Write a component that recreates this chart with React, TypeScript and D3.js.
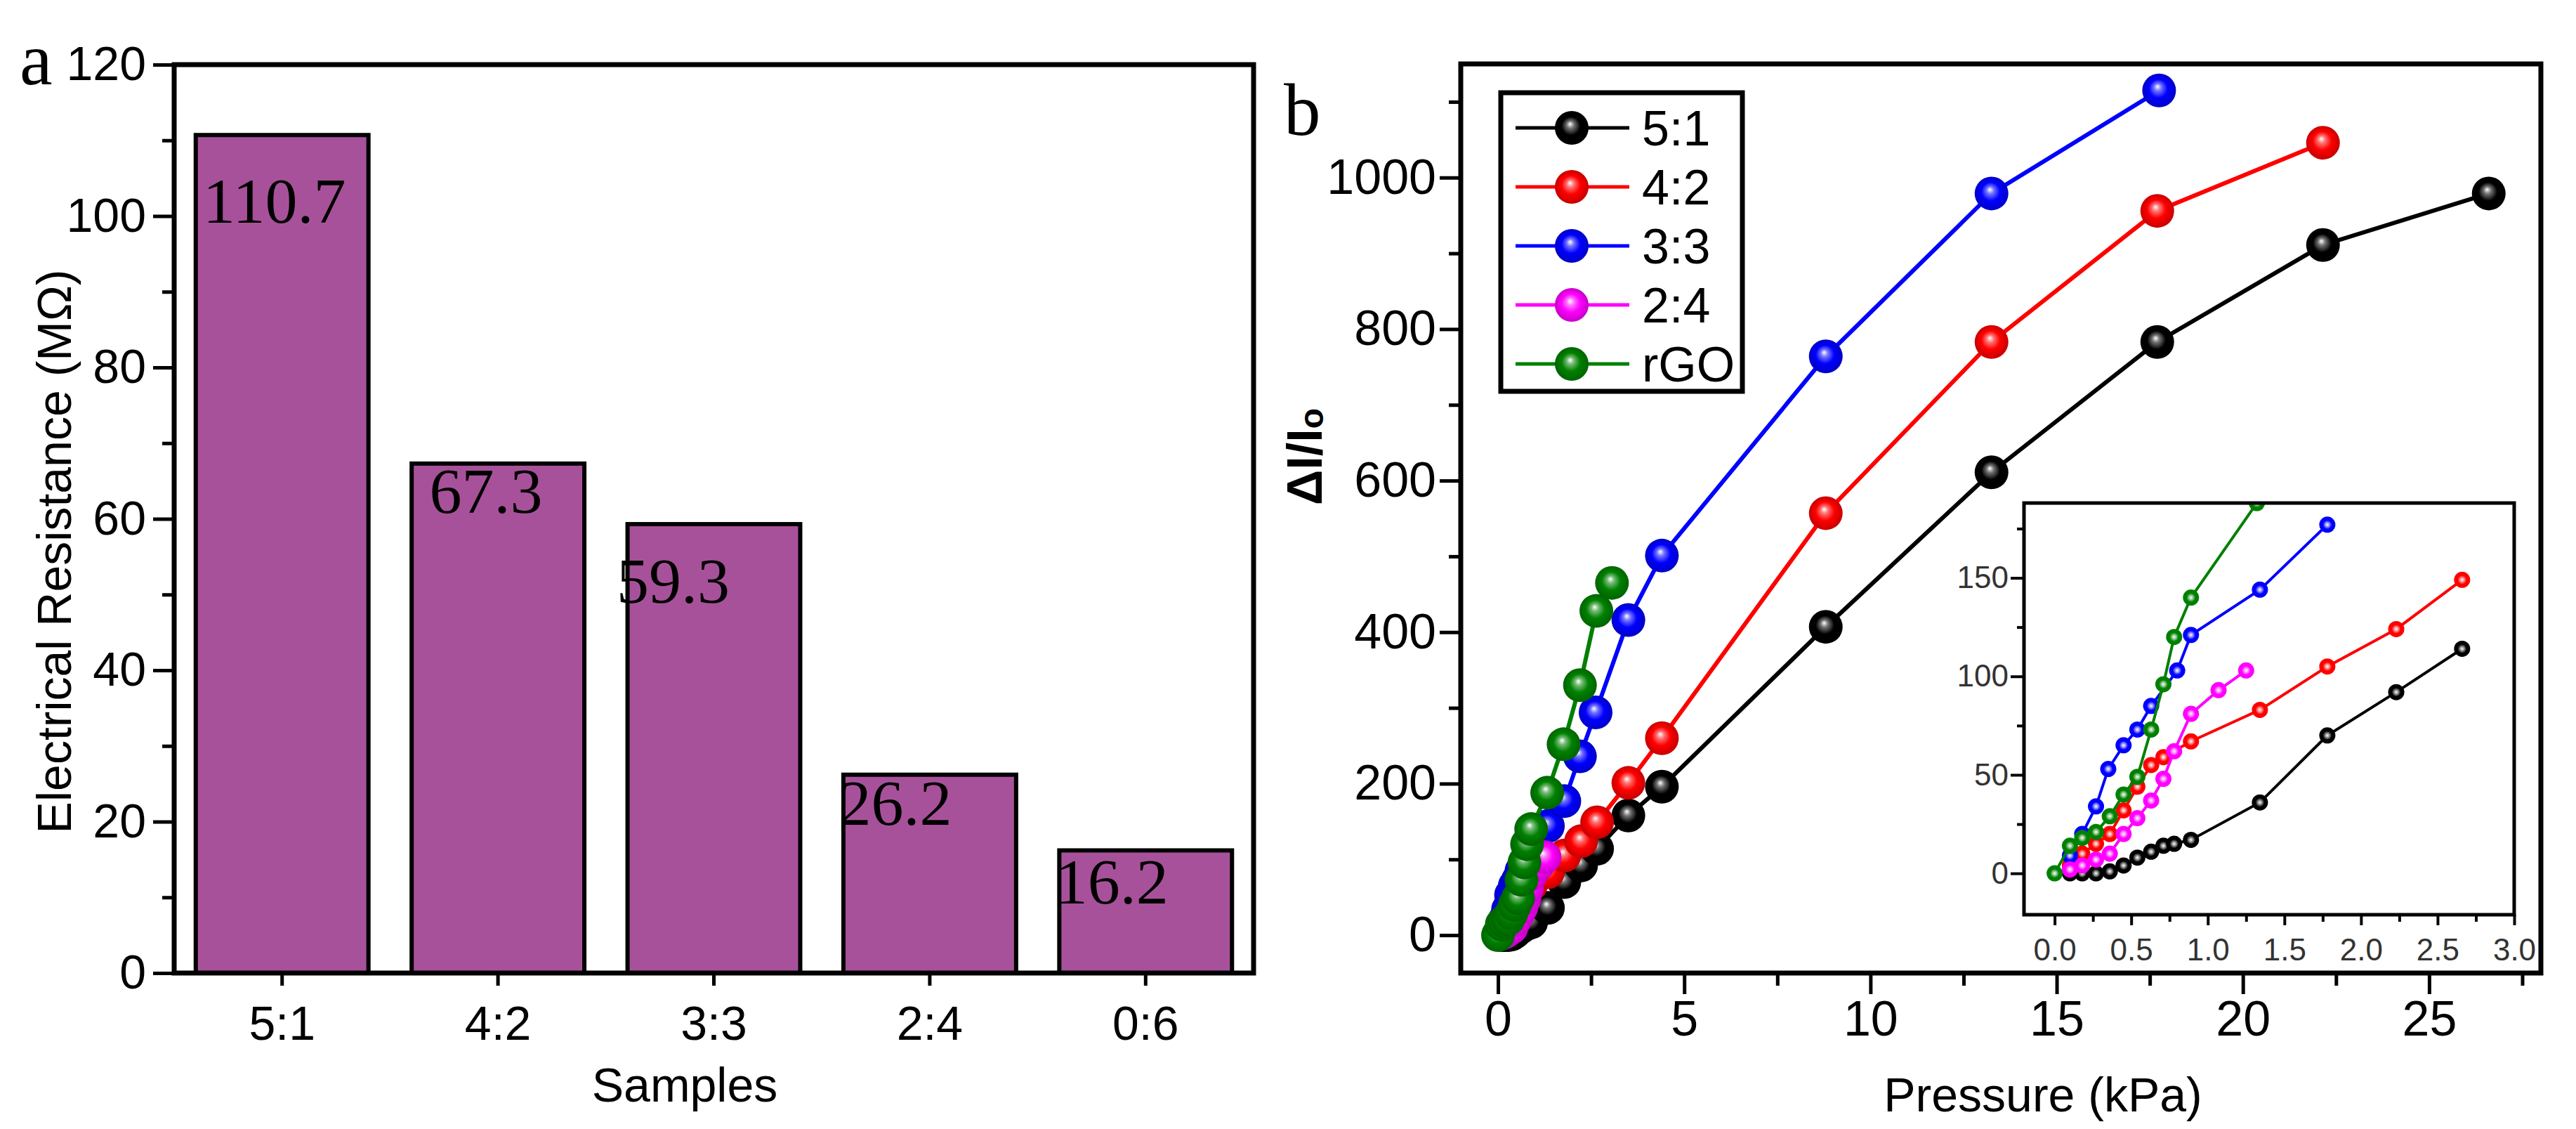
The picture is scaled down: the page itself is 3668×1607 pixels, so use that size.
import React, { useEffect, useRef } from 'react'
import * as d3 from 'd3'

// panel a: resistance of each sample
const samples = ['5:1', '4:2', '3:3', '2:4', '0:6']
const resistance = [110.7, 67.3, 59.3, 26.2, 16.2]
const resistanceTicks = [0, 20, 40, 60, 80, 100, 120]
// value labels are not placed the same way in every bar of the original
const labelDx = [-11, -17, -58, -49, -48]
const labelDy = [125, 70, 112, 71, 76]

// panel b: response vs pressure
const seriesNames = ['5:1', '4:2', '3:3', '2:4', 'rGO']
const seriesColors = ['#000000', '#ff0000', '#0000ff', '#ff00ff', '#008000']

const p51 = [0.1, 0.18, 0.27, 0.36, 0.45, 0.54, 0.63, 0.71, 0.78, 0.89, 1.34, 1.78, 2.23, 2.66, 3.5, 4.4, 8.8, 13.25, 17.7, 22.15, 26.6]
const r51 = [0, 0, 0, 1, 4, 8, 11, 14, 15, 17, 36, 70, 92, 114, 158, 196, 407, 611, 783, 911, 979]

const p42 = [0.1, 0.18, 0.27, 0.36, 0.45, 0.54, 0.63, 0.71, 0.89, 1.34, 1.78, 2.23, 2.66, 3.5, 4.4, 8.8, 13.25, 17.7, 22.15]
const r42 = [4, 10, 15, 20, 32, 44, 55, 59, 67, 83, 105, 124, 149, 201, 260, 557, 783, 956, 1046]

const p33 = [0.1, 0.18, 0.27, 0.35, 0.45, 0.54, 0.63, 0.8, 0.89, 1.34, 1.78, 2.2, 2.62, 3.5, 4.4, 8.8, 13.25, 17.75]
const r33 = [9, 20, 34, 53, 65, 73, 85, 103, 121, 144, 177, 236, 294, 416, 501, 764, 979, 1115]

const p24 = [0.1, 0.18, 0.27, 0.36, 0.45, 0.54, 0.63, 0.71, 0.78, 0.89, 1.07, 1.25]
const r24 = [2, 4, 7, 10, 20, 28, 37, 48, 62, 81, 93, 103]

const pGO = [0, 0.1, 0.18, 0.27, 0.36, 0.45, 0.54, 0.63, 0.71, 0.78, 0.89, 1.32, 1.76, 2.2, 2.64, 3.06]
const rGO = [0, 14, 18, 21, 29, 40, 49, 73, 96, 120, 140, 188, 252, 330, 428, 465]

const pressures = [p51, p42, p33, p24, pGO]
const responses = [r51, r42, r33, r24, rGO]

const mainXTicks = [0, 5, 10, 15, 20, 25]
const mainYTicks = [0, 200, 400, 600, 800, 1000]
const insetXTicks = [0, 0.5, 1, 1.5, 2, 2.5, 3]
const insetYTicks = [0, 50, 100, 150]

const sans = '"Liberation Sans", Arial, sans-serif'
const serif = '"Liberation Serif", "Times New Roman", serif'

export default function App() {
    const ref = useRef<SVGSVGElement>(null)

    useEffect(() => {
        draw()
    }, [])

    const draw = () => {
        const svg = d3.select(ref.current)
        svg.selectAll('*').remove()

        const series = seriesNames.map((name, i) => ({
            name,
            color: seriesColors[i],
            pts: pressures[i].map((p, j) => ({ p, r: responses[i][j] }))
        }))

        // shaded balls for the markers
        const defs = svg.append('defs')
        seriesColors.forEach((c, i) => {
            const g = defs.append('radialGradient').attr('id', `ball${i}`)
                .attr('cx', '50%').attr('cy', '50%').attr('r', '50%').attr('fx', '45%').attr('fy', '38%')
            g.append('stop').attr('offset', '0%').attr('stop-color', '#ffffff')
            g.append('stop').attr('offset', '22%').attr('stop-color', d3.interpolateRgb(c, '#ffffff')(0.45))
            g.append('stop').attr('offset', '55%').attr('stop-color', c)
            g.append('stop').attr('offset', '100%').attr('stop-color', d3.color(c)!.darker(0.7).toString())
            const s = defs.append('radialGradient').attr('id', `ring${i}`)
                .attr('cx', '50%').attr('cy', '50%').attr('r', '50%')
            s.append('stop').attr('offset', '0%').attr('stop-color', '#ffffff')
            s.append('stop').attr('offset', '30%').attr('stop-color', d3.interpolateRgb(c, '#ffffff')(0.5))
            s.append('stop').attr('offset', '55%').attr('stop-color', c)
            s.append('stop').attr('offset', '100%').attr('stop-color', c)
        })

        const styleAxis = (g, size, width = 5) => {
            g.select('.domain').remove()
            g.selectAll('line').attr('stroke', '#000').attr('stroke-width', width)
            g.selectAll('text').attr('font-family', sans).attr('font-size', size).attr('fill', '#000')
        }

        // ---------- panel a ----------
        const a = { left: 248, right: 1785, top: 92, bottom: 1385 }
        const xa = d3.scaleBand().domain(samples).range([a.left, a.right]).paddingInner(0.2).paddingOuter(0.1)
        const ya = d3.scaleLinear().domain([0, 120]).range([a.bottom, a.top])

        svg.append('g')
            .selectAll('rect')
            .data(resistance)
            .join('rect')
            .attr('x', (d, i) => xa(samples[i]))
            .attr('y', d => ya(d))
            .attr('width', xa.bandwidth())
            .attr('height', d => ya(0) - ya(d))
            .attr('fill', '#a8519b')
            .attr('stroke', '#000')
            .attr('stroke-width', 6)

        svg.append('g')
            .selectAll('text')
            .data(resistance)
            .join('text')
            .attr('x', (d, i) => xa(samples[i]) + xa.bandwidth() / 2 + labelDx[i])
            .attr('y', (d, i) => ya(d) + labelDy[i])
            .attr('text-anchor', 'middle')
            .attr('font-family', serif)
            .attr('font-size', 92)
            .attr('fill', '#000')
            .text(d => d)

        svg.append('g').attr('transform', `translate(${a.left},0)`)
            .call(d3.axisLeft(ya).tickValues(resistanceTicks).tickSize(30).tickPadding(10))
            .call(g => styleAxis(g, 68))
        svg.append('g').attr('transform', `translate(${a.left},0)`)
            .call(d3.axisLeft(ya).tickValues([10, 30, 50, 70, 90, 110]).tickSize(17).tickFormat(() => ''))
            .call(g => styleAxis(g, 68))
        svg.append('g').attr('transform', `translate(0,${a.bottom})`)
            .call(d3.axisBottom(xa).tickSize(18).tickPadding(29))
            .call(g => styleAxis(g, 68))

        svg.append('rect')
            .attr('x', a.left).attr('y', a.top)
            .attr('width', a.right - a.left).attr('height', a.bottom - a.top)
            .attr('fill', 'none').attr('stroke', '#000').attr('stroke-width', 7)

        svg.append('text')
            .attr('transform', `translate(77,785) rotate(-90)`)
            .attr('text-anchor', 'middle').attr('dominant-baseline', 'central')
            .attr('font-family', sans).attr('font-size', 68)
            .text('Electrical Resistance (MΩ)')
        svg.append('text')
            .attr('x', 975).attr('y', 1568)
            .attr('text-anchor', 'middle')
            .attr('font-family', sans).attr('font-size', 68)
            .text('Samples')
        svg.append('text')
            .attr('x', 28).attr('y', 120)
            .attr('font-family', serif).attr('font-size', 105)
            .text('a')

        // ---------- panel b ----------
        const b = { left: 2080, right: 3618, top: 91, bottom: 1385 }
        const xb = d3.scaleLinear().domain([-1, 28]).range([b.left, b.right])
        const yb = d3.scaleLinear().domain([-50, 1150]).range([b.bottom, b.top])

        const lineB = d3.line().x(d => xb(d.p)).y(d => yb(d.r))
        series.forEach((s, i) => {
            const g = svg.append('g')
            g.append('path')
                .datum(s.pts)
                .attr('d', lineB)
                .attr('fill', 'none')
                .attr('stroke', s.color)
                .attr('stroke-width', 6)
            g.selectAll('circle')
                .data(s.pts)
                .join('circle')
                .attr('cx', d => xb(d.p))
                .attr('cy', d => yb(d.r))
                .attr('r', 24)
                .attr('fill', `url(#ball${i})`)
        })

        svg.append('g').attr('transform', `translate(${b.left},0)`)
            .call(d3.axisLeft(yb).tickValues(mainYTicks).tickSize(30).tickPadding(5).tickFormat(d3.format('d')))
            .call(g => styleAxis(g, 70))
        svg.append('g').attr('transform', `translate(${b.left},0)`)
            .call(d3.axisLeft(yb).tickValues([100, 300, 500, 700, 900, 1100]).tickSize(17).tickFormat(() => ''))
            .call(g => styleAxis(g, 70))
        svg.append('g').attr('transform', `translate(0,${b.bottom})`)
            .call(d3.axisBottom(xb).tickValues(mainXTicks).tickSize(30).tickPadding(9))
            .call(g => styleAxis(g, 70))
        svg.append('g').attr('transform', `translate(0,${b.bottom})`)
            .call(d3.axisBottom(xb).tickValues([2.5, 7.5, 12.5, 17.5, 22.5, 27.5]).tickSize(18).tickFormat(() => ''))
            .call(g => styleAxis(g, 70))

        svg.append('rect')
            .attr('x', b.left).attr('y', b.top)
            .attr('width', b.right - b.left).attr('height', b.bottom - b.top)
            .attr('fill', 'none').attr('stroke', '#000').attr('stroke-width', 7)

        const yt = svg.append('text')
            .attr('transform', `translate(1858,650) rotate(-90)`)
            .attr('text-anchor', 'middle').attr('dominant-baseline', 'central')
            .attr('font-family', sans).attr('font-size', 70).attr('font-weight', 'bold')
        yt.append('tspan').text('ΔI/I')
        yt.append('tspan').attr('font-size', 48).attr('dy', 9).text('o')

        svg.append('text')
            .attr('x', 2909).attr('y', 1582)
            .attr('text-anchor', 'middle')
            .attr('font-family', sans).attr('font-size', 68)
            .text('Pressure (kPa)')
        svg.append('text')
            .attr('x', 1828).attr('y', 192)
            .attr('font-family', serif).attr('font-size', 105)
            .text('b')

        // legend
        const lg = svg.append('g').attr('transform', 'translate(2137,132)')
        lg.append('rect')
            .attr('width', 344).attr('height', 425)
            .attr('fill', '#fff').attr('stroke', '#000').attr('stroke-width', 7)
        series.forEach((s, i) => {
            const row = lg.append('g').attr('transform', `translate(0,${50 + i * 84})`)
            row.append('line').attr('x1', 21).attr('x2', 183)
                .attr('stroke', s.color).attr('stroke-width', 5)
            row.append('circle').attr('cx', 101).attr('r', 24).attr('fill', `url(#ball${i})`)
            row.append('text').attr('x', 201).attr('y', 25)
                .attr('font-family', sans).attr('font-size', 70)
                .text(s.name)
        })

        // ---------- inset ----------
        const ins = { left: 2882, right: 3580, top: 716, bottom: 1302 }
        const xi = d3.scaleLinear().domain([-0.2, 3.0]).range([ins.left, ins.right])
        const yi = d3.scaleLinear().domain([-21, 188]).range([ins.bottom, ins.top])

        svg.append('rect')
            .attr('x', ins.left).attr('y', ins.top)
            .attr('width', ins.right - ins.left).attr('height', ins.bottom - ins.top)
            .attr('fill', '#fff')

        defs.append('clipPath').attr('id', 'insetClip')
            .append('rect')
            .attr('x', ins.left).attr('y', ins.top)
            .attr('width', ins.right - ins.left).attr('height', ins.bottom - ins.top)

        const lineI = d3.line().x(d => xi(d.p)).y(d => yi(d.r))
        const plotI = svg.append('g').attr('clip-path', 'url(#insetClip)')
        series.forEach((s, i) => {
            const pts = s.pts.filter(d => d.p <= 3 && d.r <= 195)
            const g = plotI.append('g')
            g.append('path')
                .datum(pts)
                .attr('d', lineI)
                .attr('fill', 'none')
                .attr('stroke', s.color)
                .attr('stroke-width', 4)
            g.selectAll('circle')
                .data(pts)
                .join('circle')
                .attr('cx', d => xi(d.p))
                .attr('cy', d => yi(d.r))
                .attr('r', 11.5)
                .attr('fill', `url(#ring${i})`)
        })

        svg.append('g').attr('transform', `translate(${ins.left},0)`)
            .call(d3.axisLeft(yi).tickValues(insetYTicks).tickSize(19).tickPadding(3))
            .call(g => styleAxis(g, 44, 4))
            .call(g => g.selectAll('text').attr('fill', '#333'))
        svg.append('g').attr('transform', `translate(${ins.left},0)`)
            .call(d3.axisLeft(yi).tickValues([25, 75, 125, 175]).tickSize(10).tickFormat(() => ''))
            .call(g => styleAxis(g, 44, 4))
        svg.append('g').attr('transform', `translate(0,${ins.bottom})`)
            .call(d3.axisBottom(xi).tickValues(insetXTicks).tickSize(15).tickPadding(19).tickFormat(d3.format('.1f')))
            .call(g => styleAxis(g, 44, 4))
            .call(g => g.selectAll('text').attr('fill', '#333'))
        svg.append('g').attr('transform', `translate(0,${ins.bottom})`)
            .call(d3.axisBottom(xi).tickValues([0.25, 0.75, 1.25, 1.75, 2.25, 2.75]).tickSize(10).tickFormat(() => ''))
            .call(g => styleAxis(g, 44, 4))

        svg.append('rect')
            .attr('x', ins.left).attr('y', ins.top)
            .attr('width', ins.right - ins.left).attr('height', ins.bottom - ins.top)
            .attr('fill', 'none').attr('stroke', '#000').attr('stroke-width', 5)
    }

    return (
        <svg ref={ref} width={3668} height={1607}
            style={{ position: 'absolute', left: 0, top: 0, background: '#fff' }}></svg>
    )
}
